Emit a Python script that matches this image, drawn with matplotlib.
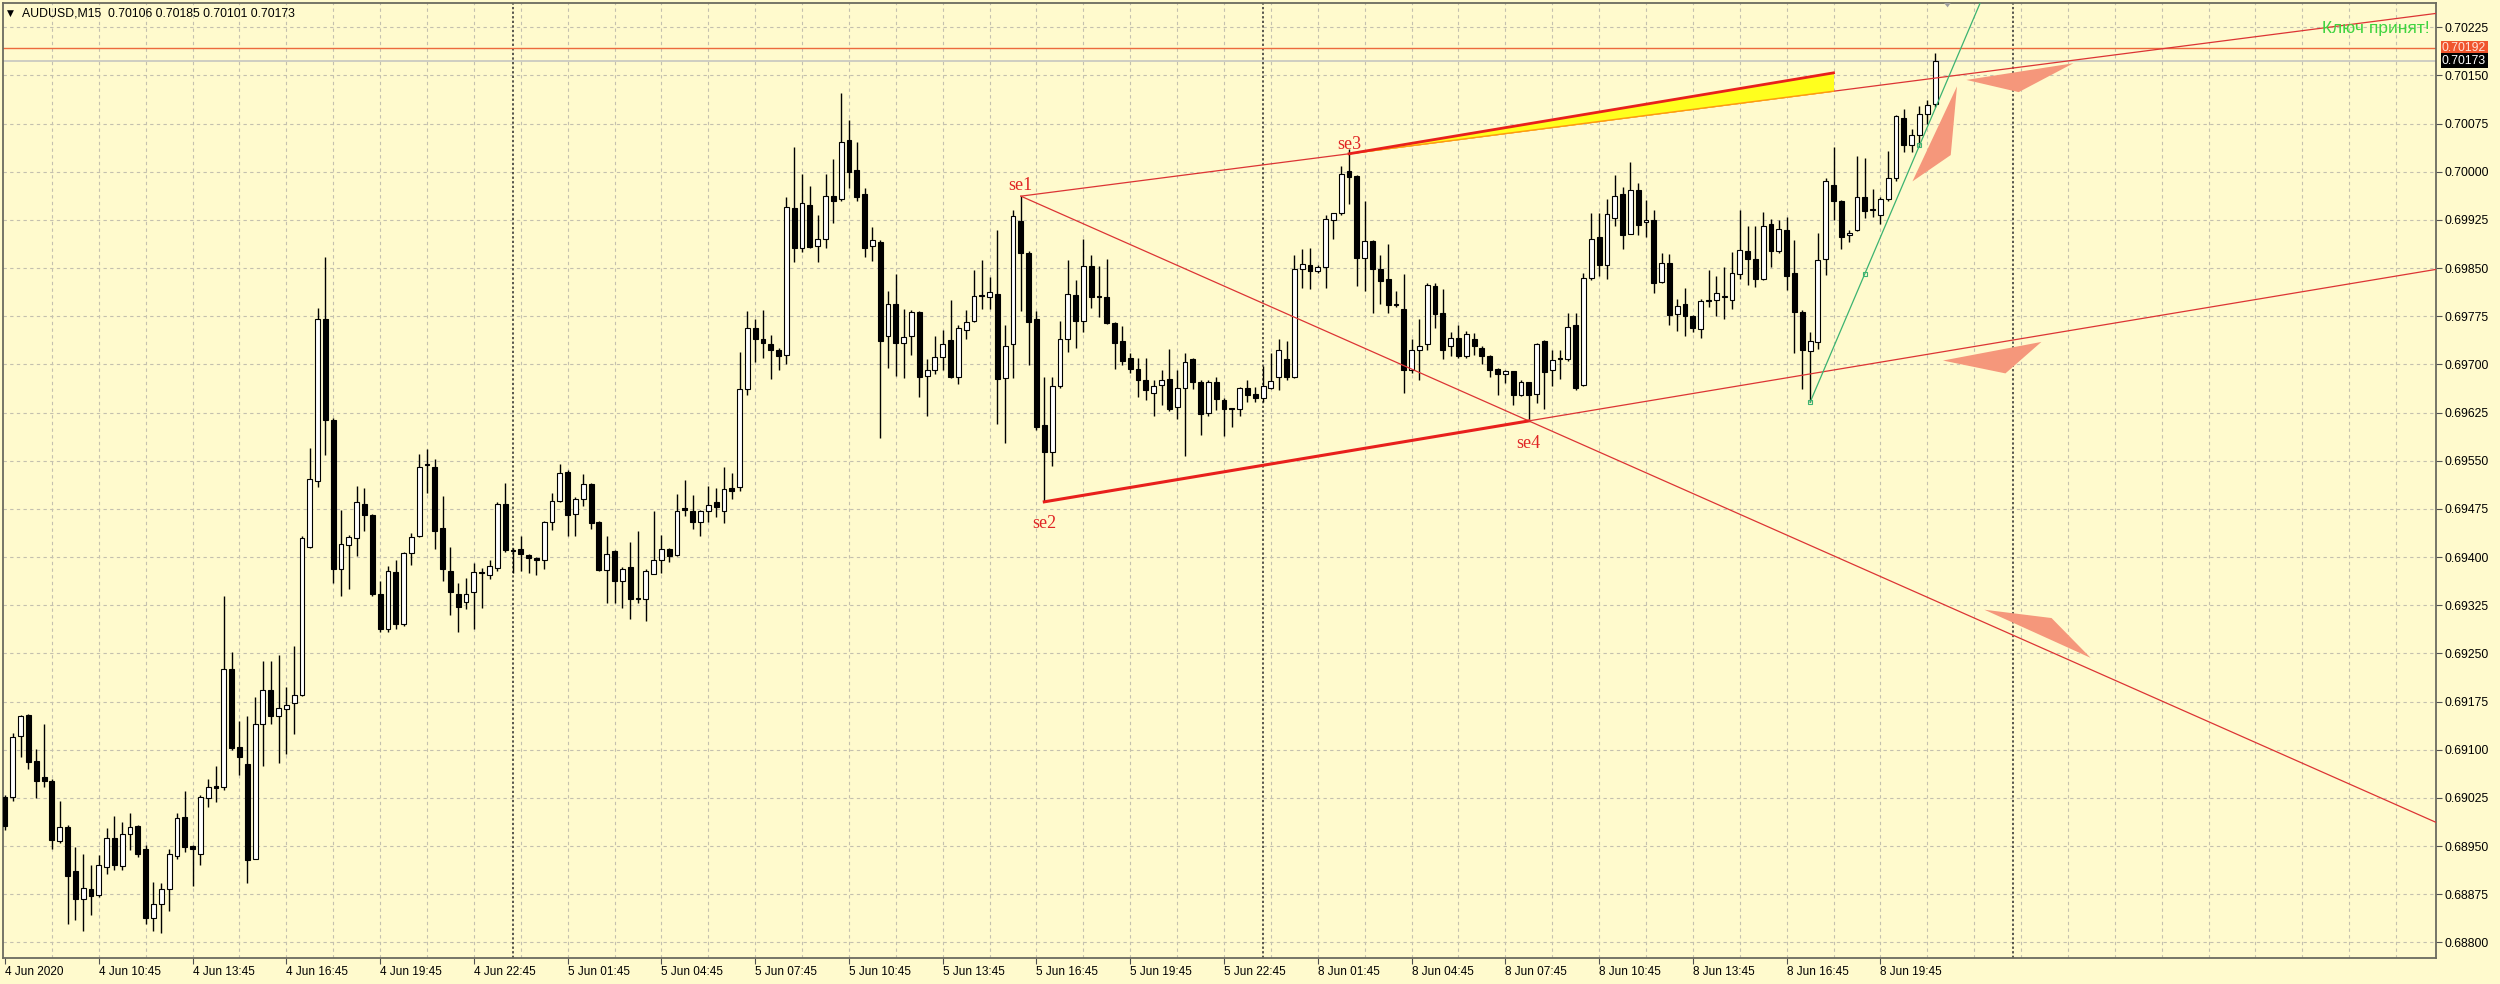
import numpy as np
import matplotlib
matplotlib.use("Agg")
import matplotlib.pyplot as plt
import matplotlib.transforms as mtransforms
from matplotlib.patches import Polygon

# AUDUSD M15, bars from 4 Jun 07:45 to 8 Jun 21:30, prices in points (1e-5)
opens = [
    69026, 69026, 69122, 69154, 69082, 69058, 69051, 68958, 68980, 68911,
    68868, 68883, 68874, 68918, 68962, 68919, 68968, 68981, 68945, 68838,
    68860, 68883, 68935, 68995, 68950, 68938, 69024, 69043, 69042, 69225,
    69104, 69077, 68930, 69140, 69193, 69152, 69163, 69172, 69185, 69416,
    69518, 69771, 69614, 69381, 69419, 69429, 69483, 69465, 69342, 69288,
    69376, 69295, 69406, 69432, 69543, 69541, 69445, 69379, 69343, 69330,
    69346, 69376, 69372, 69383, 69482, 69411, 69412, 69403, 69399, 69395,
    69454, 69488, 69533, 69467, 69491, 69513, 69454, 69380, 69409, 69363,
    69385, 69336, 69335, 69374, 69396, 69412, 69403, 69475, 69471, 69455,
    69471, 69486, 69472, 69507, 69509, 69662, 69756, 69740, 69732, 69723,
    69714, 69943, 69881, 69949, 69884, 69896, 69963, 69957, 70049, 70002,
    69966, 69884, 69891, 69744, 69794, 69734, 69744, 69781, 69682, 69692,
    69712, 69738, 69680, 69754, 69767, 69807, 69805, 69809, 69679, 69731,
    69924, 69874, 69770, 69605, 69564, 69666, 69739, 69808, 69767, 69854,
    69805, 69805, 69764, 69736, 69710, 69693, 69675, 69656, 69668, 69678,
    69633, 69663, 69708, 69672, 69624, 69672, 69645, 69630, 69630, 69663,
    69654, 69648, 69663, 69680, 69709, 69681, 69849, 69855, 69846, 69851,
    69925, 69935, 70001, 69993, 69866, 69892, 69848, 69833, 69792, 69786,
    69692, 69722, 69731, 69822, 69780, 69728, 69741, 69713, 69739, 69725,
    69713, 69693, 69685, 69690, 69653, 69673, 69654, 69736, 69691, 69709,
    69708, 69762, 69668, 69835, 69899, 69855, 69928, 69965, 69903, 69972,
    69921, 69925, 69829, 69858, 69779, 69794, 69776, 69755, 69799, 69801,
    69805, 69801, 69840, 69877, 69864, 69833, 69919, 69876, 69909, 69842,
    69782, 69721, 69735, 69864, 69980, 69954, 69902, 69909, 69961, 69941,
    69933, 69957, 69991, 70083, 70041, 70058, 70090, 70106,
]
highs = [
    69030, 69126, 69154, 69156, 69101, 69140, 69055, 69020, 68982, 68949,
    68938, 68920, 68936, 68978, 68997, 68988, 69002, 68983, 68952, 68894,
    68893, 68945, 69002, 69035, 68952, 69030, 69055, 69075, 69340, 69252,
    69145, 69152, 69182, 69238, 69238, 69247, 69197, 69261, 69432, 69570,
    69788, 69868, 69616, 69474, 69434, 69511, 69507, 69467, 69362, 69386,
    69395, 69408, 69438, 69561, 69568, 69553, 69495, 69416, 69359, 69367,
    69390, 69383, 69395, 69485, 69515, 69414, 69433, 69405, 69400, 69456,
    69500, 69545, 69535, 69494, 69530, 69515, 69456, 69433, 69411, 69384,
    69424, 69441, 69381, 69472, 69435, 69414, 69498, 69520, 69497, 69474,
    69510, 69507, 69540, 69531, 69719, 69783, 69771, 69785, 69746, 69726,
    69961, 70038, 69997, 69978, 69932, 69997, 70020, 70123, 70080, 70046,
    69974, 69914, 69893, 69814, 69840, 69787, 69784, 69783, 69709, 69744,
    69753, 69800, 69762, 69785, 69847, 69862, 69836, 69910, 69762, 69940,
    69962, 69876, 69783, 69681, 69681, 69767, 69863, 69832, 69896, 69871,
    69853, 69864, 69766, 69760, 69718, 69710, 69710, 69676, 69692, 69724,
    69692, 69718, 69710, 69676, 69676, 69681, 69647, 69632, 69665, 69676,
    69665, 69698, 69717, 69740, 69737, 69871, 69879, 69881, 69855, 69933,
    69935, 70009, 70035, 69995, 69954, 69894, 69871, 69888, 69814, 69840,
    69739, 69770, 69826, 69826, 69818, 69750, 69762, 69752, 69749, 69728,
    69714, 69695, 69692, 69690, 69675, 69673, 69733, 69738, 69722, 69723,
    69780, 69780, 69842, 69936, 69935, 69957, 69995, 69977, 70015, 69983,
    69956, 69940, 69873, 69872, 69802, 69819, 69777, 69802, 69847, 69837,
    69852, 69875, 69941, 69915, 69915, 69938, 69927, 69925, 69930, 69894,
    69785, 69750, 69905, 69990, 70039, 69956, 69910, 70025, 70021, 69973,
    69961, 70033, 70088, 70097, 70066, 70102, 70111, 70185,
]
lows = [
    68975, 69020, 69088, 69070, 69024, 69042, 68945, 68955, 68828, 68835,
    68817, 68842, 68870, 68906, 68912, 68912, 68944, 68933, 68828, 68818,
    68815, 68849, 68930, 68940, 68888, 68920, 69010, 69018, 69037, 69100,
    69060, 68892, 68930, 69074, 69140, 69079, 69093, 69125, 69183, 69414,
    69509, 69559, 69359, 69340, 69350, 69402, 69440, 69340, 69283, 69283,
    69288, 69293, 69388, 69431, 69500, 69413, 69363, 69309, 69284, 69319,
    69288, 69320, 69366, 69378, 69408, 69375, 69378, 69375, 69372, 69381,
    69442, 69486, 69433, 69432, 69480, 69444, 69378, 69329, 69328, 69321,
    69304, 69328, 69300, 69374, 69375, 69393, 69402, 69464, 69444, 69433,
    69455, 69463, 69453, 69490, 69503, 69652, 69703, 69710, 69677, 69692,
    69701, 69859, 69875, 69881, 69860, 69882, 69920, 69954, 69974, 69954,
    69867, 69861, 69585, 69694, 69682, 69679, 69714, 69649, 69620, 69685,
    69691, 69679, 69670, 69740, 69766, 69786, 69786, 69607, 69578, 69679,
    69783, 69699, 69598, 69486, 69542, 69663, 69719, 69726, 69750, 69788,
    69774, 69763, 69693, 69699, 69687, 69650, 69645, 69620, 69637, 69628,
    69615, 69557, 69662, 69590, 69619, 69629, 69588, 69603, 69619, 69642,
    69642, 69641, 69661, 69660, 69676, 69679, 69819, 69818, 69843, 69819,
    69896, 69933, 69950, 69822, 69814, 69780, 69794, 69780, 69790, 69655,
    69687, 69676, 69722, 69757, 69709, 69713, 69710, 69710, 69715, 69700,
    69680, 69653, 69671, 69637, 69651, 69612, 69640, 69630, 69667, 69677,
    69706, 69660, 69666, 69831, 69837, 69833, 69915, 69879, 69903, 69902,
    69899, 69811, 69826, 69762, 69752, 69744, 69751, 69741, 69790, 69775,
    69770, 69786, 69833, 69824, 69821, 69832, 69851, 69874, 69816, 69718,
    69662, 69641, 69724, 69839, 69925, 69879, 69891, 69908, 69928, 69930,
    69919, 69954, 69985, 70031, 70031, 70039, 70074, 70101,
]
closes = [
    68981, 69120, 69152, 69081, 69052, 69052, 68960, 68980, 68903, 68867,
    68885, 68872, 68920, 68963, 68920, 68968, 68980, 68938, 68838, 68860,
    68883, 68937, 68993, 68949, 68945, 69026, 69042, 69041, 69225, 69102,
    69088, 68928, 69140, 69193, 69152, 69165, 69170, 69185, 69429, 69521,
    69771, 69614, 69381, 69420, 69431, 69486, 69466, 69342, 69288, 69379,
    69295, 69406, 69431, 69541, 69543, 69440, 69381, 69345, 69322, 69342,
    69376, 69375, 69386, 69483, 69411, 69410, 69405, 69399, 69395, 69454,
    69488, 69531, 69466, 69491, 69513, 69453, 69380, 69404, 69363, 69381,
    69334, 69335, 69378, 69396, 69412, 69402, 69472, 69474, 69455, 69471,
    69481, 69478, 69506, 69503, 69662, 69757, 69739, 69734, 69723, 69713,
    69945, 69882, 69951, 69883, 69896, 69963, 69954, 70046, 70000, 69960,
    69881, 69893, 69736, 69794, 69734, 69743, 69781, 69680, 69692, 69712,
    69732, 69680, 69756, 69766, 69807, 69806, 69813, 69677, 69729, 69931,
    69874, 69766, 69602, 69564, 69666, 69740, 69809, 69768, 69854, 69805,
    69805, 69765, 69734, 69705, 69693, 69675, 69660, 69667, 69675, 69630,
    69663, 69704, 69672, 69622, 69672, 69646, 69630, 69630, 69663, 69653,
    69647, 69666, 69674, 69722, 69680, 69849, 69857, 69845, 69852, 69926,
    69935, 69996, 69992, 69866, 69892, 69848, 69830, 69792, 69792, 69692,
    69722, 69729, 69823, 69779, 69723, 69741, 69713, 69748, 69728, 69713,
    69692, 69685, 69690, 69653, 69672, 69653, 69731, 69688, 69707, 69709,
    69758, 69663, 69835, 69896, 69855, 69934, 69963, 69902, 69971, 69917,
    69925, 69827, 69858, 69777, 69791, 69776, 69756, 69799, 69800, 69811,
    69806, 69842, 69878, 69864, 69833, 69916, 69877, 69911, 69837, 69781,
    69723, 69736, 69863, 69985, 69954, 69899, 69905, 69960, 69939, 69940,
    69958, 69991, 70087, 70041, 70058, 70090, 70104, 70173,
]

time_labels = [
    "4 Jun 2020", "4 Jun 10:45", "4 Jun 13:45", "4 Jun 16:45", "4 Jun 19:45",
    "4 Jun 22:45", "5 Jun 01:45", "5 Jun 04:45", "5 Jun 07:45", "5 Jun 10:45",
    "5 Jun 13:45", "5 Jun 16:45", "5 Jun 19:45", "5 Jun 22:45", "8 Jun 01:45",
    "8 Jun 04:45", "8 Jun 07:45", "8 Jun 10:45", "8 Jun 13:45", "8 Jun 16:45",
    "8 Jun 19:45",
]
price_ticks = [
    0.68800, 0.68875, 0.68950, 0.69025, 0.69100, 0.69175, 0.69250, 0.69325,
    0.69400, 0.69475, 0.69550, 0.69625, 0.69700, 0.69775, 0.69850, 0.69925,
    0.70000, 0.70075, 0.70150, 0.70225,
]
day_breaks = [65, 161, 257]  # bar index of each midnight

# pattern points
se_names = ["se1", "se2", "se3", "se4"]
se_bars = [130, 133, 172, 195]
se_prices = [0.69962, 0.69486, 0.70028, 0.69612]
wedge_end = 234

# green trend line anchors
trend_bars = [231, 238, 245]
trend_prices = [0.69641, 0.69841, 0.70041]

alert_price = 0.70192
bid_price = 0.70173
header = "AUDUSD,M15  0.70106 0.70185 0.70101 0.70173"
note_text = "Ключ принят!"

# salmon arrow shapes (bar index, price)
arrows = [
    ([251.0, 264.7, 257.7], [0.70143, 0.70169, 0.70124]),
    ([249.8, 249.0, 244.1], [0.70133, 0.70026, 0.69985]),
    ([248.0, 260.6, 256.0], [0.69706, 0.69735, 0.69686]),
    ([253.3, 261.9, 266.9], [0.69318, 0.69305, 0.69243]),
]
top_marker = ([247.8, 249.3, 248.6], [0.70268, 0.70268, 0.70256])

BG = "#fffacd"
GRID = "#c4c0ae"
RED = "#dc3434"
plt.rcParams["font.family"] = ["Liberation Sans", "DejaVu Sans"]

fig = plt.figure(figsize=(25, 9.84), dpi=100, facecolor=BG)
ax = fig.add_axes([3 / 2500, 26 / 984, 2433 / 2500, 955 / 984], facecolor=BG)
x_right = 311.1
ax.set_xlim(-0.26, x_right)
ax.set_ylim(0.687756, 0.702628)

# grid and day separators
for p in price_ticks:
    ax.axhline(p, color=GRID, lw=0.8, ls=(0, (3, 3)), zorder=0)
for b in range(6, 312, 6):
    ax.axvline(b, color=GRID, lw=0.8, ls=(0, (3, 3)), zorder=0)
for b in day_breaks:
    ax.axvline(b, color="#2a2a2a", lw=1.1, ls=(0, (1.5, 1.5)), zorder=1)

# candles
o = np.array(opens) / 1e5
h = np.array(highs) / 1e5
l = np.array(lows) / 1e5
c = np.array(closes) / 1e5
x = np.arange(len(o))
ax.vlines(x, l, h, color="black", lw=1.0, zorder=3)
lo = np.minimum(o, c)
ht = np.maximum(np.abs(c - o), 1.6e-5)
bull = c > o
ax.bar(x[bull], ht[bull], 0.62, lo[bull], color="white", edgecolor="black", linewidth=0.8, zorder=4)
ax.bar(x[~bull], ht[~bull], 0.62, lo[~bull], color="black", edgecolor="black", linewidth=0.8, zorder=4)

# horizontal lines
ax.axhline(alert_price, color="#ec6a3e", lw=1.0, zorder=2)
ax.axhline(bid_price, color="#c6c6c0", lw=1.2, zorder=2)


def line_val(b1, p1, b2, p2, bx):
    k = (p2 - p1) / (b2 - b1)
    return p1 + k * (np.asarray(bx) - b1)


s1, s2, s3, s4 = zip(se_bars, se_prices)
# upper channel se1 -> se3, extended
xs = np.array([s1[0], x_right])
ax.plot(xs, line_val(*s1, *s3, xs), color=RED, lw=0.9, zorder=5)
# diagonal se1 -> se4, extended
ax.plot(xs, line_val(*s1, *s4, xs), color=RED, lw=0.9, zorder=5)
# lower channel se2 -> se4 (thick), then extension
xs2 = np.array([s2[0], s4[0]])
ax.plot(xs2, line_val(*s2, *s4, xs2), color="#e8201c", lw=2.2, zorder=5)
xs3 = np.array([s4[0], x_right])
ax.plot(xs3, line_val(*s2, *s4, xs3), color=RED, lw=0.9, zorder=5)

# wedge: parallel of lower channel through se3, filled against upper channel
wx = np.linspace(s3[0], wedge_end, 50)
k_low = (s4[1] - s2[1]) / (s4[0] - s2[0])
w_top = s3[1] + k_low * (wx - s3[0])
w_bot = line_val(*s1, *s3, wx)
ax.fill_between(wx, w_bot, w_top, color="#ffff1e", lw=0, zorder=5)
ax.plot(wx, w_bot, color="#ff9a10", lw=1.0, zorder=6)
ax.plot(wx, w_top, color="#e8201c", lw=2.0, zorder=6)

# green trend line
gx = np.array([trend_bars[0], 262])
ax.plot(gx, line_val(trend_bars[0], trend_prices[0], trend_bars[-1], trend_prices[-1], gx),
        color="#3cb371", lw=0.9, zorder=6)
ax.plot(trend_bars, trend_prices, "s", ms=3.2, mfc="none", mec="#3cb371", mew=0.8, zorder=7)

# arrows
for bx, py in arrows:
    ax.add_patch(Polygon(list(zip(bx, py)), closed=True, fc="#f5977b", ec="none", zorder=6))
ax.add_patch(Polygon(list(zip(*top_marker)), closed=True, fc="#a0a0a0", ec="none", zorder=6))

# pattern labels
label_offsets = [(0, 2), (0, -13), (0, 1), (0, -14)]
for name, b, p, off in zip(se_names, se_bars, se_prices, label_offsets):
    ax.annotate(name, (b, p), xytext=off, textcoords="offset pixels",
                ha="center", va="bottom" if off[1] > 0 else "top",
                family="Liberation Serif", fontsize=13, color="#e02424", zorder=8)

# texts
ax.text(0.9975, 0.9738, note_text, transform=ax.transAxes, ha="right", va="center",
        color="#3fd43f", fontsize=12.5, zorder=9)
ax.text(0.0016, 0.9895, "▼", transform=ax.transAxes, ha="left", va="center",
        fontsize=6.5, family="DejaVu Sans", color="black", zorder=9)
ax.text(0.0078, 0.9895, header, transform=ax.transAxes, ha="left", va="center",
        fontsize=8.8, color="black", zorder=9)

# axes, ticks
for sp in ax.spines.values():
    sp.set_color("#6b6b5f")
    sp.set_linewidth(1.3)
ax.yaxis.tick_right()
ax.set_yticks(price_ticks)
ax.set_yticklabels([f"{p:.5f}" for p in price_ticks])
ax.tick_params(axis="y", length=4, width=0.8, color="#505050", pad=2, labelsize=8.8)
ax.set_xticks(range(0, 12 * len(time_labels), 12))
ax.set_xticklabels(time_labels, ha="left")
ax.tick_params(axis="x", length=4, width=0.8, color="#505050", pad=2, labelsize=8.5)

# price tags on the right axis
tag_tr = mtransforms.blended_transform_factory(ax.transAxes, ax.transData)
ax.text(1.0 + 6 / 2433, alert_price, f"{alert_price:.5f}", transform=tag_tr, ha="left", va="center",
        fontsize=8.8, color="#ffe2d8", clip_on=False, zorder=10,
        bbox=dict(boxstyle="square,pad=0.12", fc="#f0552d", ec="none"))
ax.text(1.0 + 6 / 2433, bid_price, f"{bid_price:.5f}", transform=tag_tr, ha="left", va="center",
        fontsize=8.8, color="white", clip_on=False, zorder=10,
        bbox=dict(boxstyle="square,pad=0.12", fc="black", ec="none"))

fig.savefig("out.png", dpi=100, facecolor=BG)
